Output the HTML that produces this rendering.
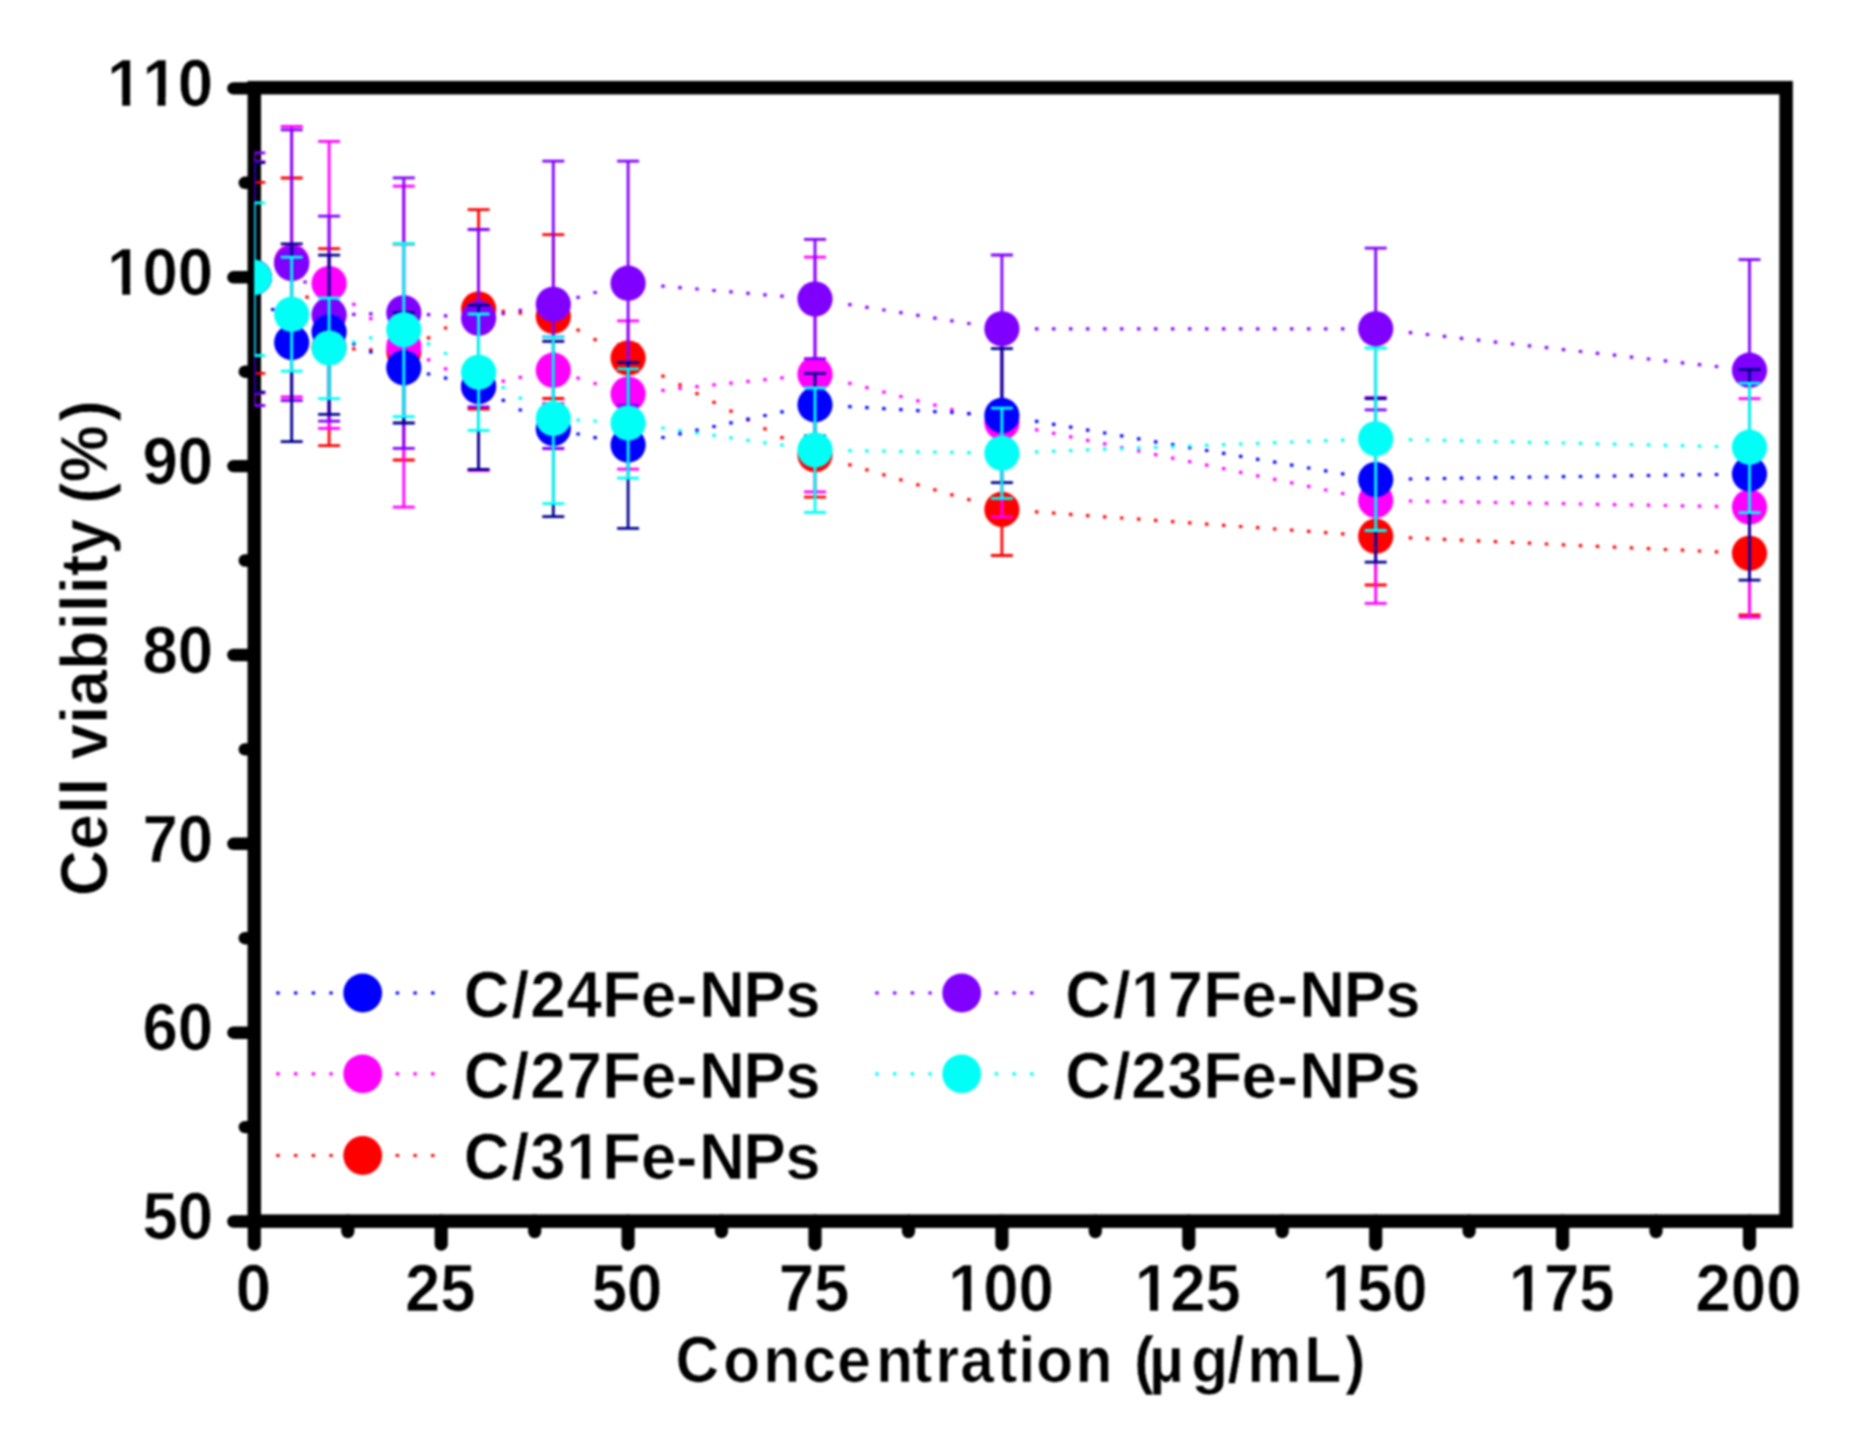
<!DOCTYPE html>
<html lang="en"><head><meta charset="utf-8"><title>Cell viability vs concentration</title>
<style>html,body{margin:0;padding:0;background:#fff}body{width:1870px;height:1452px;overflow:hidden}svg{display:block;filter:blur(0.8px)}text{font-family:"Liberation Sans", sans-serif;font-weight:bold;fill:#000;stroke:#fff;stroke-width:0.7px;font-kerning:none;font-variant-ligatures:none}</style>
</head><body>
<svg width="1870" height="1452" viewBox="0 0 1870 1452">
<rect width="1870" height="1452" fill="#fff"/>
<defs><clipPath id="plot"><rect x="254.3" y="87.7" width="1531.8" height="1133.5"/></clipPath></defs>
<g stroke="#000" stroke-width="13.5" fill="none" stroke-linecap="round">
<g stroke-width="12.4">
<line x1="254.3" y1="1221.5" x2="233.4" y2="1221.5"/>
<line x1="254.3" y1="1127.1" x2="244.8" y2="1127.1"/>
<line x1="254.3" y1="1032.7" x2="233.4" y2="1032.7"/>
<line x1="254.3" y1="938.2" x2="244.8" y2="938.2"/>
<line x1="254.3" y1="843.8" x2="233.4" y2="843.8"/>
<line x1="254.3" y1="749.4" x2="244.8" y2="749.4"/>
<line x1="254.3" y1="655.0" x2="233.4" y2="655.0"/>
<line x1="254.3" y1="560.5" x2="244.8" y2="560.5"/>
<line x1="254.3" y1="466.1" x2="233.4" y2="466.1"/>
<line x1="254.3" y1="371.7" x2="244.8" y2="371.7"/>
<line x1="254.3" y1="277.3" x2="233.4" y2="277.3"/>
<line x1="254.3" y1="182.8" x2="244.8" y2="182.8"/>
<line x1="254.3" y1="88.4" x2="233.4" y2="88.4"/>
</g>
<g stroke-width="13.2">
<line x1="254.3" y1="1221.2" x2="254.3" y2="1244.2"/>
<line x1="347.8" y1="1221.2" x2="347.8" y2="1231.6"/>
<line x1="441.2" y1="1221.2" x2="441.2" y2="1244.2"/>
<line x1="534.7" y1="1221.2" x2="534.7" y2="1231.6"/>
<line x1="628.1" y1="1221.2" x2="628.1" y2="1244.2"/>
<line x1="721.5" y1="1221.2" x2="721.5" y2="1231.6"/>
<line x1="815.0" y1="1221.2" x2="815.0" y2="1244.2"/>
<line x1="908.5" y1="1221.2" x2="908.5" y2="1231.6"/>
<line x1="1001.9" y1="1221.2" x2="1001.9" y2="1244.2"/>
<line x1="1095.3" y1="1221.2" x2="1095.3" y2="1231.6"/>
<line x1="1188.8" y1="1221.2" x2="1188.8" y2="1244.2"/>
<line x1="1282.2" y1="1221.2" x2="1282.2" y2="1231.6"/>
<line x1="1375.7" y1="1221.2" x2="1375.7" y2="1244.2"/>
<line x1="1469.1" y1="1221.2" x2="1469.1" y2="1231.6"/>
<line x1="1562.6" y1="1221.2" x2="1562.6" y2="1244.2"/>
<line x1="1656.0" y1="1221.2" x2="1656.0" y2="1231.6"/>
<line x1="1749.5" y1="1221.2" x2="1749.5" y2="1244.2"/>
</g>
<rect x="254.3" y="87.7" width="1531.8" height="1133.5" stroke-linejoin="miter" stroke-linecap="butt"/>
</g>
<g>
<g transform="translate(213.0 1239.2) scale(1 1.042)"><text font-size="63.5" text-anchor="end">50</text></g>
<g transform="translate(213.0 1050.4) scale(1 1.042)"><text font-size="63.5" text-anchor="end">60</text></g>
<g transform="translate(213.0 861.5) scale(1 1.042)"><text font-size="63.5" text-anchor="end">70</text></g>
<g transform="translate(213.0 672.7) scale(1 1.042)"><text font-size="63.5" text-anchor="end">80</text></g>
<g transform="translate(213.0 483.8) scale(1 1.042)"><text font-size="63.5" text-anchor="end">90</text></g>
<g transform="translate(213.0 295.0) scale(1 1.042)"><text font-size="63.5" text-anchor="end">100</text><rect x="-104.02" y="-8.26" width="13.24" height="9.53" fill="#fff"/><rect x="-82.78" y="-8.26" width="12.06" height="9.53" fill="#fff"/></g>
<g transform="translate(213.0 106.1) scale(1 1.042)"><text font-size="63.5" text-anchor="end">110</text><rect x="-104.02" y="-8.26" width="13.24" height="9.53" fill="#fff"/><rect x="-82.78" y="-8.26" width="12.06" height="9.53" fill="#fff"/><rect x="-68.72" y="-8.26" width="13.24" height="9.53" fill="#fff"/><rect x="-47.48" y="-8.26" width="12.06" height="9.53" fill="#fff"/></g>
<g transform="translate(253.3 1310.6) scale(1 1.042)"><text font-size="63.5" text-anchor="middle">0</text></g>
<g transform="translate(440.2 1310.6) scale(1 1.042)"><text font-size="63.5" text-anchor="middle">25</text></g>
<g transform="translate(627.1 1310.6) scale(1 1.042)"><text font-size="63.5" text-anchor="middle">50</text></g>
<g transform="translate(814.0 1310.6) scale(1 1.042)"><text font-size="63.5" text-anchor="middle">75</text></g>
<g transform="translate(1000.9 1310.6) scale(1 1.042)"><text font-size="63.5" text-anchor="middle">100</text><rect x="-51.06" y="-8.26" width="13.24" height="9.53" fill="#fff"/><rect x="-29.82" y="-8.26" width="12.06" height="9.53" fill="#fff"/></g>
<g transform="translate(1187.8 1310.6) scale(1 1.042)"><text font-size="63.5" text-anchor="middle">125</text><rect x="-51.06" y="-8.26" width="13.24" height="9.53" fill="#fff"/><rect x="-29.82" y="-8.26" width="12.06" height="9.53" fill="#fff"/></g>
<g transform="translate(1374.7 1310.6) scale(1 1.042)"><text font-size="63.5" text-anchor="middle">150</text><rect x="-51.06" y="-8.26" width="13.24" height="9.53" fill="#fff"/><rect x="-29.82" y="-8.26" width="12.06" height="9.53" fill="#fff"/></g>
<g transform="translate(1561.6 1310.6) scale(1 1.042)"><text font-size="63.5" text-anchor="middle">175</text><rect x="-51.06" y="-8.26" width="13.24" height="9.53" fill="#fff"/><rect x="-29.82" y="-8.26" width="12.06" height="9.53" fill="#fff"/></g>
<g transform="translate(1748.5 1310.6) scale(1 1.042)"><text font-size="63.5" text-anchor="middle">200</text></g>
</g>
<g transform="translate(675.5 1382.3) scale(1 1.065)"><text font-size="60.5" text-anchor="start" textLength="690.0" lengthAdjust="spacing" dx="0 1.9 0.9 0 -0.9 2.8 -2.8 0.9 -0.9 1.1 -1 -1.2 -0.1 0 0.6 -7.3 5 -2.7 0.9 0.9 1.9">Concentration (µg/mL)</text></g>
<g transform="translate(106.5 896.3) rotate(-90) scale(1 1.042)"><text font-size="64.0" text-anchor="start" textLength="496.0" lengthAdjust="spacing" dx="0 0 0 0 0 0 0 0 0 0 0 0 0 0 0 -3.4 0 3.4">Cell viability (%)</text></g>
<g clip-path="url(#plot)">
<g id="s-red">
<path d="M312.9 314.2h3.4M305.4 297.2h3.4M369.1 349.9h3.4M352.1 348.8h3.4M443.9 328.0h3.4M426.9 337.8h3.4M518.6 313.1h3.4M501.6 311.4h3.4M593.4 339.6h3.4M576.4 330.1h3.4M780.3 437.6h3.4M763.3 428.8h3.4M746.3 420.0h3.4M729.3 411.2h3.4M712.3 402.4h3.4M695.3 393.6h3.4M678.3 384.9h3.4M661.3 376.1h3.4M967.2 499.7h3.4M950.2 494.8h3.4M933.2 489.8h3.4M916.2 484.8h3.4M899.2 479.8h3.4M882.2 474.9h3.4M865.2 469.9h3.4M848.2 464.9h3.4M1341.0 533.8h3.4M1324.0 532.6h3.4M1307.0 531.4h3.4M1290.0 530.2h3.4M1273.0 529.0h3.4M1256.0 527.7h3.4M1239.0 526.5h3.4M1222.0 525.3h3.4M1205.0 524.1h3.4M1188.0 522.9h3.4M1171.0 521.6h3.4M1154.0 520.4h3.4M1137.0 519.2h3.4M1120.0 518.0h3.4M1103.0 516.8h3.4M1086.0 515.6h3.4M1069.0 514.3h3.4M1052.0 513.1h3.4M1035.0 511.9h3.4M1714.8 551.8h3.4M1697.8 551.0h3.4M1680.8 550.2h3.4M1663.8 549.5h3.4M1646.8 548.7h3.4M1629.8 547.9h3.4M1612.8 547.1h3.4M1595.8 546.3h3.4M1578.8 545.6h3.4M1561.8 544.8h3.4M1544.8 544.0h3.4M1527.8 543.2h3.4M1510.8 542.5h3.4M1493.8 541.7h3.4M1476.8 540.9h3.4M1459.8 540.1h3.4M1442.8 539.3h3.4M1425.8 538.6h3.4M1408.8 537.8h3.4" stroke="#ff0000" stroke-width="3.2" fill="none"/>
<g stroke="#ff0000" stroke-width="2.8" fill="none">
<path d="M254.3 182.4V373.4M243.3 182.4H265.3M243.3 373.4H265.3M291.7 178.0V346.0M280.7 178.0H302.7M280.7 346.0H302.7M329.1 248.7V445.7M318.1 248.7H340.1M318.1 445.7H340.1M403.8 244.0V460.0M392.8 244.0H414.8M392.8 460.0H414.8M478.6 209.7V409.0M467.6 209.7H489.6M467.6 409.0H489.6M553.3 234.6V398.5M542.3 234.6H564.3M542.3 398.5H564.3M628.1 344.4V371.6M617.1 344.4H639.1M617.1 371.6H639.1M815.0 412.3V497.1M804.0 412.3H826.0M804.0 497.1H826.0M1001.9 463.3V555.5M990.9 463.3H1012.9M990.9 555.5H1012.9M1375.7 487.4V585.0M1364.7 487.4H1386.7M1364.7 585.0H1386.7M1749.5 496.0V614.8M1738.5 496.0H1760.5M1738.5 614.8H1760.5"/>
</g>
<g fill="#ff0000">
<circle cx="254.3" cy="277.4" r="17.6"/>
<circle cx="291.7" cy="262.0" r="17.6"/>
<circle cx="329.1" cy="347.2" r="17.6"/>
<circle cx="403.8" cy="352.0" r="17.6"/>
<circle cx="478.6" cy="309.0" r="17.6"/>
<circle cx="553.3" cy="316.3" r="17.6"/>
<circle cx="628.1" cy="358.0" r="17.6"/>
<circle cx="815.0" cy="454.7" r="17.6"/>
<circle cx="1001.9" cy="509.4" r="17.6"/>
<circle cx="1375.7" cy="536.2" r="17.6"/>
<circle cx="1749.5" cy="553.3" r="17.6"/>
</g>
</g>
<g id="s-magenta">
<path d="M369.1 318.7h3.4M352.1 304.4h3.4M443.9 368.9h3.4M426.9 359.8h3.4M518.6 377.4h3.4M501.6 381.1h3.4M593.4 383.5h3.4M576.4 378.1h3.4M780.3 377.8h3.4M763.3 379.6h3.4M746.3 381.4h3.4M729.3 383.2h3.4M712.3 384.9h3.4M695.3 386.7h3.4M678.3 388.5h3.4M661.3 390.3h3.4M967.2 414.0h3.4M950.2 409.6h3.4M933.2 405.2h3.4M916.2 400.8h3.4M899.2 396.5h3.4M882.2 392.1h3.4M865.2 387.7h3.4M848.2 383.3h3.4M1341.0 493.5h3.4M1324.0 490.0h3.4M1307.0 486.4h3.4M1290.0 482.9h3.4M1273.0 479.4h3.4M1256.0 475.8h3.4M1239.0 472.3h3.4M1222.0 468.7h3.4M1205.0 465.2h3.4M1188.0 461.6h3.4M1171.0 458.1h3.4M1154.0 454.6h3.4M1137.0 451.0h3.4M1120.0 447.5h3.4M1103.0 443.9h3.4M1086.0 440.4h3.4M1069.0 436.8h3.4M1052.0 433.3h3.4M1035.0 429.8h3.4M1714.8 506.4h3.4M1697.8 506.1h3.4M1680.8 505.8h3.4M1663.8 505.5h3.4M1646.8 505.2h3.4M1629.8 504.9h3.4M1612.8 504.6h3.4M1595.8 504.3h3.4M1578.8 504.0h3.4M1561.8 503.7h3.4M1544.8 503.4h3.4M1527.8 503.1h3.4M1510.8 502.8h3.4M1493.8 502.5h3.4M1476.8 502.2h3.4M1459.8 501.9h3.4M1442.8 501.6h3.4M1425.8 501.3h3.4M1408.8 501.0h3.4" stroke="#ff00ff" stroke-width="3.2" fill="none"/>
<g stroke="#ff00ff" stroke-width="2.8" fill="none">
<path d="M254.3 161.6V393.2M243.3 161.6H265.3M243.3 393.2H265.3M291.7 126.4V397.0M280.7 126.4H302.7M280.7 397.0H302.7M329.1 141.4V428.4M318.1 141.4H340.1M318.1 428.4H340.1M403.8 186.2V507.1M392.8 186.2H414.8M392.8 507.1H414.8M478.6 305.0V470.7M467.6 305.0H489.6M467.6 470.7H489.6M553.3 337.0V403.5M542.3 337.0H564.3M542.3 403.5H564.3M628.1 320.8V469.1M617.1 320.8H639.1M617.1 469.1H639.1M815.0 257.1V491.9M804.0 257.1H826.0M804.0 491.9H826.0M1001.9 328.0V516.8M990.9 328.0H1012.9M990.9 516.8H1012.9M1375.7 397.4V603.4M1364.7 397.4H1386.7M1364.7 603.4H1386.7M1749.5 398.7V617.3M1738.5 398.7H1760.5M1738.5 617.3H1760.5"/>
</g>
<g fill="#ff00ff">
<circle cx="254.3" cy="277.4" r="17.6"/>
<circle cx="291.7" cy="261.7" r="17.6"/>
<circle cx="329.1" cy="283.5" r="17.6"/>
<circle cx="403.8" cy="346.6" r="17.6"/>
<circle cx="478.6" cy="386.5" r="17.6"/>
<circle cx="553.3" cy="370.2" r="17.6"/>
<circle cx="628.1" cy="394.0" r="17.6"/>
<circle cx="815.0" cy="374.3" r="17.6"/>
<circle cx="1001.9" cy="422.5" r="17.6"/>
<circle cx="1375.7" cy="500.4" r="17.6"/>
<circle cx="1749.5" cy="507.0" r="17.6"/>
</g>
</g>
<g id="s-purple">
<path d="M303.4 282.0h3.4M369.1 313.8h3.4M352.1 314.3h3.4M443.9 315.8h3.4M426.9 314.6h3.4M518.6 310.4h3.4M501.6 313.6h3.4M593.4 292.5h3.4M576.4 297.3h3.4M780.3 296.2h3.4M763.3 294.8h3.4M746.3 293.3h3.4M729.3 291.9h3.4M712.3 290.5h3.4M695.3 289.0h3.4M678.3 287.6h3.4M661.3 286.2h3.4M967.2 323.5h3.4M950.2 320.8h3.4M933.2 318.1h3.4M916.2 315.4h3.4M899.2 312.7h3.4M882.2 310.0h3.4M865.2 307.3h3.4M848.2 304.6h3.4M1341.0 328.8h3.4M1324.0 328.8h3.4M1307.0 328.8h3.4M1290.0 328.8h3.4M1273.0 328.8h3.4M1256.0 328.8h3.4M1239.0 328.8h3.4M1222.0 328.8h3.4M1205.0 328.8h3.4M1188.0 328.8h3.4M1171.0 328.8h3.4M1154.0 328.8h3.4M1137.0 328.8h3.4M1120.0 328.8h3.4M1103.0 328.8h3.4M1086.0 328.8h3.4M1069.0 328.8h3.4M1052.0 328.8h3.4M1035.0 328.8h3.4M1714.8 366.5h3.4M1697.8 364.7h3.4M1680.8 362.8h3.4M1663.8 360.9h3.4M1646.8 359.0h3.4M1629.8 357.1h3.4M1612.8 355.2h3.4M1595.8 353.4h3.4M1578.8 351.5h3.4M1561.8 349.6h3.4M1544.8 347.7h3.4M1527.8 345.8h3.4M1510.8 344.0h3.4M1493.8 342.1h3.4M1476.8 340.2h3.4M1459.8 338.3h3.4M1442.8 336.4h3.4M1425.8 334.5h3.4M1408.8 332.7h3.4" stroke="#8000ff" stroke-width="3.2" fill="none"/>
<g stroke="#8000ff" stroke-width="2.8" fill="none">
<path d="M254.3 152.9V405.5M243.3 152.9H265.3M243.3 405.5H265.3M291.7 129.8V400.6M280.7 129.8H302.7M280.7 400.6H302.7M329.1 216.1V421.1M318.1 216.1H340.1M318.1 421.1H340.1M403.8 177.8V448.3M392.8 177.8H414.8M392.8 448.3H414.8M478.6 229.5V406.9M467.6 229.5H489.6M467.6 406.9H489.6M553.3 161.2V448.5M542.3 161.2H564.3M542.3 448.5H564.3M628.1 161.2V405.2M617.1 161.2H639.1M617.1 405.2H639.1M815.0 239.3V358.7M804.0 239.3H826.0M804.0 358.7H826.0M1001.9 255.0V402.6M990.9 255.0H1012.9M990.9 402.6H1012.9M1375.7 248.2V409.8M1364.7 248.2H1386.7M1364.7 409.8H1386.7M1749.5 259.6V480.8M1738.5 259.6H1760.5M1738.5 480.8H1760.5"/>
</g>
<g fill="#8000ff">
<circle cx="254.3" cy="277.4" r="17.6"/>
<circle cx="291.7" cy="263.5" r="17.6"/>
<circle cx="329.1" cy="315.0" r="17.6"/>
<circle cx="403.8" cy="312.8" r="17.6"/>
<circle cx="478.6" cy="318.2" r="17.6"/>
<circle cx="553.3" cy="304.3" r="17.6"/>
<circle cx="628.1" cy="283.2" r="17.6"/>
<circle cx="815.0" cy="299.0" r="17.6"/>
<circle cx="1001.9" cy="328.8" r="17.6"/>
<circle cx="1375.7" cy="328.8" r="17.6"/>
<circle cx="1749.5" cy="370.2" r="17.6"/>
</g>
</g>
<g id="s-blue">
<path d="M271.0 309.5h3.4M369.1 352.0h3.4M352.1 343.9h3.4M443.9 378.2h3.4M426.9 374.0h3.4M518.6 410.0h3.4M501.6 400.4h3.4M593.4 437.7h3.4M576.4 434.0h3.4M780.3 411.8h3.4M763.3 415.5h3.4M746.3 419.1h3.4M729.3 422.8h3.4M712.3 426.5h3.4M695.3 430.1h3.4M678.3 433.8h3.4M661.3 437.5h3.4M967.2 413.5h3.4M950.2 412.5h3.4M933.2 411.6h3.4M916.2 410.6h3.4M899.2 409.6h3.4M882.2 408.6h3.4M865.2 407.7h3.4M848.2 406.7h3.4M1341.0 473.8h3.4M1324.0 470.9h3.4M1307.0 468.0h3.4M1290.0 465.1h3.4M1273.0 462.2h3.4M1256.0 459.3h3.4M1239.0 456.3h3.4M1222.0 453.4h3.4M1205.0 450.5h3.4M1188.0 447.6h3.4M1171.0 444.7h3.4M1154.0 441.8h3.4M1137.0 438.9h3.4M1120.0 435.9h3.4M1103.0 433.0h3.4M1086.0 430.1h3.4M1069.0 427.2h3.4M1052.0 424.3h3.4M1035.0 421.4h3.4M1714.8 474.5h3.4M1697.8 474.7h3.4M1680.8 475.0h3.4M1663.8 475.2h3.4M1646.8 475.5h3.4M1629.8 475.7h3.4M1612.8 476.0h3.4M1595.8 476.2h3.4M1578.8 476.5h3.4M1561.8 476.7h3.4M1544.8 477.0h3.4M1527.8 477.2h3.4M1510.8 477.5h3.4M1493.8 477.7h3.4M1476.8 478.0h3.4M1459.8 478.2h3.4M1442.8 478.5h3.4M1425.8 478.7h3.4M1408.8 479.0h3.4" stroke="#0000ff" stroke-width="3.2" fill="none"/>
<g stroke="#000090" stroke-width="2.8" fill="none">
<path d="M254.3 162.6V392.2M243.3 162.6H265.3M243.3 392.2H265.3M291.7 243.9V441.6M280.7 243.9H302.7M280.7 441.6H302.7M329.1 255.2V414.4M318.1 255.2H340.1M318.1 414.4H340.1M403.8 312.6V423.0M392.8 312.6H414.8M392.8 423.0H414.8M478.6 305.2V469.4M467.6 305.2H489.6M467.6 469.4H489.6M553.3 341.4V516.6M542.3 341.4H564.3M542.3 516.6H564.3M628.1 362.3V528.4M617.1 362.3H639.1M617.1 528.4H639.1M815.0 373.3V436.0M804.0 373.3H826.0M804.0 436.0H826.0M1001.9 348.7V482.7M990.9 348.7H1012.9M990.9 482.7H1012.9M1375.7 398.7V562.2M1364.7 398.7H1386.7M1364.7 562.2H1386.7M1749.5 369.5V580.2M1738.5 369.5H1760.5M1738.5 580.2H1760.5"/>
</g>
<g fill="#0000ff">
<circle cx="254.3" cy="277.4" r="17.6"/>
<circle cx="291.7" cy="342.5" r="17.6"/>
<circle cx="329.1" cy="332.0" r="17.6"/>
<circle cx="403.8" cy="367.8" r="17.6"/>
<circle cx="478.6" cy="386.5" r="17.6"/>
<circle cx="553.3" cy="428.5" r="17.6"/>
<circle cx="628.1" cy="445.0" r="17.6"/>
<circle cx="815.0" cy="404.7" r="17.6"/>
<circle cx="1001.9" cy="415.4" r="17.6"/>
<circle cx="1375.7" cy="479.5" r="17.6"/>
<circle cx="1749.5" cy="474.0" r="17.6"/>
</g>
</g>
<g id="s-cyan">
<path d="M369.1 337.8h3.4M352.1 342.0h3.4M443.9 353.5h3.4M426.9 343.9h3.4M518.6 398.1h3.4M501.6 387.6h3.4M593.4 421.0h3.4M576.4 420.0h3.4M780.3 445.2h3.4M763.3 442.8h3.4M746.3 440.3h3.4M729.3 437.9h3.4M712.3 435.4h3.4M695.3 433.0h3.4M678.3 430.5h3.4M661.3 428.0h3.4M967.2 452.6h3.4M950.2 452.3h3.4M933.2 452.1h3.4M916.2 451.8h3.4M899.2 451.5h3.4M882.2 451.2h3.4M865.2 450.9h3.4M848.2 450.6h3.4M1341.0 440.1h3.4M1324.0 440.7h3.4M1307.0 441.4h3.4M1290.0 442.0h3.4M1273.0 442.7h3.4M1256.0 443.3h3.4M1239.0 444.0h3.4M1222.0 444.7h3.4M1205.0 445.3h3.4M1188.0 446.0h3.4M1171.0 446.6h3.4M1154.0 447.3h3.4M1137.0 447.9h3.4M1120.0 448.6h3.4M1103.0 449.2h3.4M1086.0 449.9h3.4M1069.0 450.5h3.4M1052.0 451.2h3.4M1035.0 451.9h3.4M1714.8 446.5h3.4M1697.8 446.1h3.4M1680.8 445.7h3.4M1663.8 445.3h3.4M1646.8 444.9h3.4M1629.8 444.5h3.4M1612.8 444.2h3.4M1595.8 443.8h3.4M1578.8 443.4h3.4M1561.8 443.0h3.4M1544.8 442.6h3.4M1527.8 442.3h3.4M1510.8 441.9h3.4M1493.8 441.5h3.4M1476.8 441.1h3.4M1459.8 440.7h3.4M1442.8 440.3h3.4M1425.8 440.0h3.4M1408.8 439.6h3.4" stroke="#00fff6" stroke-width="3.2" fill="none"/>
<g stroke="#00fff6" stroke-width="2.8" fill="none">
<path d="M254.3 202.9V355.5M243.3 202.9H265.3M243.3 355.5H265.3M291.7 257.1V371.2M280.7 257.1H302.7M280.7 371.2H302.7M329.1 298.0V398.7M318.1 298.0H340.1M318.1 398.7H340.1M403.8 243.5V416.7M392.8 243.5H414.8M392.8 416.7H414.8M478.6 314.0V430.4M467.6 314.0H489.6M467.6 430.4H489.6M553.3 336.9V503.6M542.3 336.9H564.3M542.3 503.6H564.3M628.1 368.8V478.1M617.1 368.8H639.1M617.1 478.1H639.1M815.0 388.0V512.3M804.0 388.0H826.0M804.0 512.3H826.0M1001.9 408.1V498.4M990.9 408.1H1012.9M990.9 498.4H1012.9M1375.7 348.0V530.5M1364.7 348.0H1386.7M1364.7 530.5H1386.7M1749.5 383.1V512.7M1738.5 383.1H1760.5M1738.5 512.7H1760.5"/>
</g>
<g fill="#00fff6">
<circle cx="254.3" cy="277.4" r="17.6"/>
<circle cx="291.7" cy="314.3" r="17.6"/>
<circle cx="329.1" cy="348.0" r="17.6"/>
<circle cx="403.8" cy="329.8" r="17.6"/>
<circle cx="478.6" cy="372.3" r="17.6"/>
<circle cx="553.3" cy="418.5" r="17.6"/>
<circle cx="628.1" cy="423.0" r="17.6"/>
<circle cx="815.0" cy="450.0" r="17.6"/>
<circle cx="1001.9" cy="453.2" r="17.6"/>
<circle cx="1375.7" cy="438.8" r="17.6"/>
<circle cx="1749.5" cy="447.2" r="17.6"/>
</g>
</g>
</g>
<g>
<line x1="276.3" y1="993.0" x2="332.7" y2="993.0" stroke="#0000ff" stroke-width="3.2" stroke-dasharray="3.4 14.3"/>
<line x1="395.7" y1="993.0" x2="435.7" y2="993.0" stroke="#0000ff" stroke-width="3.2" stroke-dasharray="3.4 14.3"/>
<circle cx="362.7" cy="993.0" r="19.4" fill="#0000ff"/>
<g transform="translate(463.7 1016.8) scale(1 1.032)"><text font-size="63.5" text-anchor="start" textLength="356.9" lengthAdjust="spacing" dx="0 1.6 0.5 0.6 0 -0.6 -0.5 1.1 -1.6 -1.1">C/24Fe-NPs</text></g>
<line x1="276.3" y1="1073.8" x2="332.7" y2="1073.8" stroke="#ff00ff" stroke-width="3.2" stroke-dasharray="3.4 14.3"/>
<line x1="395.7" y1="1073.8" x2="435.7" y2="1073.8" stroke="#ff00ff" stroke-width="3.2" stroke-dasharray="3.4 14.3"/>
<circle cx="362.7" cy="1073.8" r="19.4" fill="#ff00ff"/>
<g transform="translate(463.7 1097.6) scale(1 1.032)"><text font-size="63.5" text-anchor="start" textLength="356.9" lengthAdjust="spacing" dx="0 1.6 0.5 0.6 0 -0.6 -0.5 1.1 -1.6 -1.1">C/27Fe-NPs</text></g>
<line x1="276.3" y1="1155.5" x2="332.7" y2="1155.5" stroke="#ff0000" stroke-width="3.2" stroke-dasharray="3.4 14.3"/>
<line x1="395.7" y1="1155.5" x2="435.7" y2="1155.5" stroke="#ff0000" stroke-width="3.2" stroke-dasharray="3.4 14.3"/>
<circle cx="362.7" cy="1155.5" r="19.4" fill="#ff0000"/>
<g transform="translate(463.7 1179.3) scale(1 1.032)"><text font-size="63.5" text-anchor="start" textLength="356.9" lengthAdjust="spacing" dx="0 1.6 0.5 0.6 0 -0.6 -0.5 1.1 -1.6 -1.1">C/31Fe-NPs</text><rect x="104.75" y="-8.26" width="13.24" height="9.53" fill="#fff"/><rect x="125.99" y="-8.26" width="12.06" height="9.53" fill="#fff"/></g>
<line x1="875.3" y1="993.0" x2="931.7" y2="993.0" stroke="#8000ff" stroke-width="3.2" stroke-dasharray="3.4 14.3"/>
<line x1="994.7" y1="993.0" x2="1034.7" y2="993.0" stroke="#8000ff" stroke-width="3.2" stroke-dasharray="3.4 14.3"/>
<circle cx="961.7" cy="993.0" r="19.4" fill="#8000ff"/>
<g transform="translate(1065.2 1016.8) scale(1 1.032)"><text font-size="63.5" text-anchor="start" textLength="355.4" lengthAdjust="spacing" dx="0 1.6 0.5 0.6 0 -0.6 -0.5 1.1 -1.6 -1.1">C/17Fe-NPs</text><rect x="68.06" y="-8.26" width="13.24" height="9.53" fill="#fff"/><rect x="89.30" y="-8.26" width="12.06" height="9.53" fill="#fff"/></g>
<line x1="875.3" y1="1073.8" x2="931.7" y2="1073.8" stroke="#00fff6" stroke-width="3.2" stroke-dasharray="3.4 14.3"/>
<line x1="994.7" y1="1073.8" x2="1034.7" y2="1073.8" stroke="#00fff6" stroke-width="3.2" stroke-dasharray="3.4 14.3"/>
<circle cx="961.7" cy="1073.8" r="19.4" fill="#00fff6"/>
<g transform="translate(1065.2 1097.6) scale(1 1.032)"><text font-size="63.5" text-anchor="start" textLength="355.4" lengthAdjust="spacing" dx="0 1.6 0.5 0.6 0 -0.6 -0.5 1.1 -1.6 -1.1">C/23Fe-NPs</text></g>
</g>
</svg>
</body></html>
